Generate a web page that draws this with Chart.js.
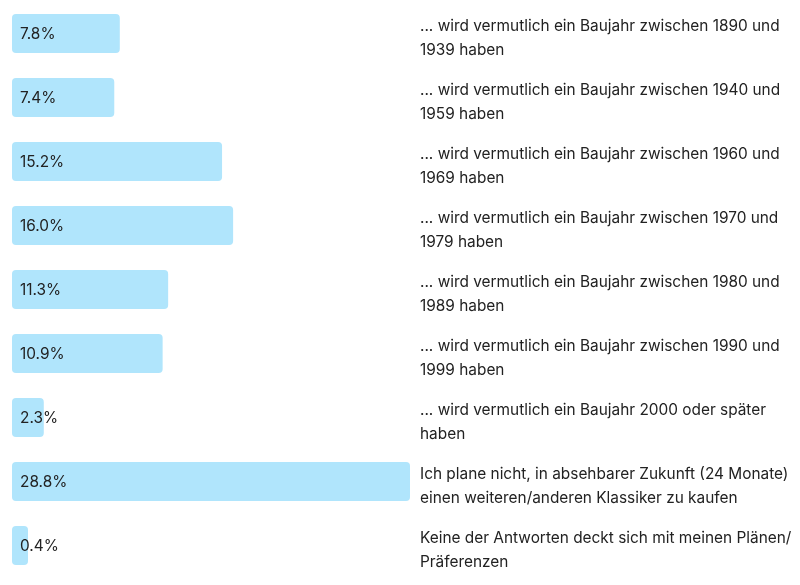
<!DOCTYPE html>
<html>
<head>
<meta charset="utf-8">
<script src="https://cdn.jsdelivr.net/npm/chart.js@4/dist/chart.umd.min.js"></script>
<style>
  html, body { margin: 0; padding: 0; background: #ffffff; }
  #wrap { width: 800px; height: 585px; }
</style>
</head>
<body>
<div id="wrap"><canvas id="c" width="800" height="585"></canvas></div>
<script>
const categories = [
  ["... wird vermutlich ein Baujahr zwischen 1890 und", "1939 haben"],
  ["... wird vermutlich ein Baujahr zwischen 1940 und", "1959 haben"],
  ["... wird vermutlich ein Baujahr zwischen 1960 und", "1969 haben"],
  ["... wird vermutlich ein Baujahr zwischen 1970 und", "1979 haben"],
  ["... wird vermutlich ein Baujahr zwischen 1980 und", "1989 haben"],
  ["... wird vermutlich ein Baujahr zwischen 1990 und", "1999 haben"],
  ["... wird vermutlich ein Baujahr 2000 oder später", "haben"],
  ["Ich plane nicht, in absehbarer Zukunft (24 Monate)", "einen weiteren/anderen Klassiker zu kaufen"],
  ["Keine der Antworten deckt sich mit meinen Plänen/", "Präferenzen"]
];
const shares = [7.8, 7.4, 15.2, 16.0, 11.3, 10.9, 2.3, 28.8, 0.4];

const FONT = "Inter, 'Noto Sans', 'DejaVu Sans', sans-serif";

const valueLabels = {
  id: 'valueLabels',
  afterDatasetsDraw(chart) {
    const ctx = chart.ctx;
    const meta = chart.getDatasetMeta(0);
    ctx.save();
    ctx.font = "15.4px " + FONT;
    ctx.fillStyle = '#222222';
    ctx.textAlign = 'left';
    ctx.textBaseline = 'middle';
    meta.data.forEach((bar, i) => {
      ctx.fillText(shares[i].toFixed(1) + '%', bar.base + 8, bar.y + 1);
    });
    ctx.restore();
  }
};

new Chart(document.getElementById('c'), {
  type: 'bar',
  data: {
    labels: categories,
    datasets: [{
      data: shares,
      backgroundColor: '#b0e5fc',
      borderWidth: 0,
      borderRadius: 4,
      borderSkipped: false,
      minBarLength: 16,
      barPercentage: 0.61,
      categoryPercentage: 1.0
    }]
  },
  options: {
    indexAxis: 'y',
    responsive: false,
    animation: false,
    devicePixelRatio: 1,
    layout: { padding: { left: 12, right: 0, top: 1.5, bottom: 7.5 } },
    plugins: { legend: { display: false }, tooltip: { enabled: false } },
    scales: {
      x: {
        display: false,
        min: 0,
        max: 28.8
      },
      y: {
        position: 'right',
        grid: { display: false, drawTicks: false },
        border: { display: false },
        ticks: {
          padding: 10,
          labelOffset: 5,
          color: '#222222',
          font: { family: FONT, size: 15.4, lineHeight: 1.56 }
        },
        afterFit(scale) {
          scale.width = 390;
          scale.paddingTop = 0;
          scale.paddingBottom = 0;
        }
      }
    }
  },
  plugins: [valueLabels]
});
</script>
</body>
</html>
